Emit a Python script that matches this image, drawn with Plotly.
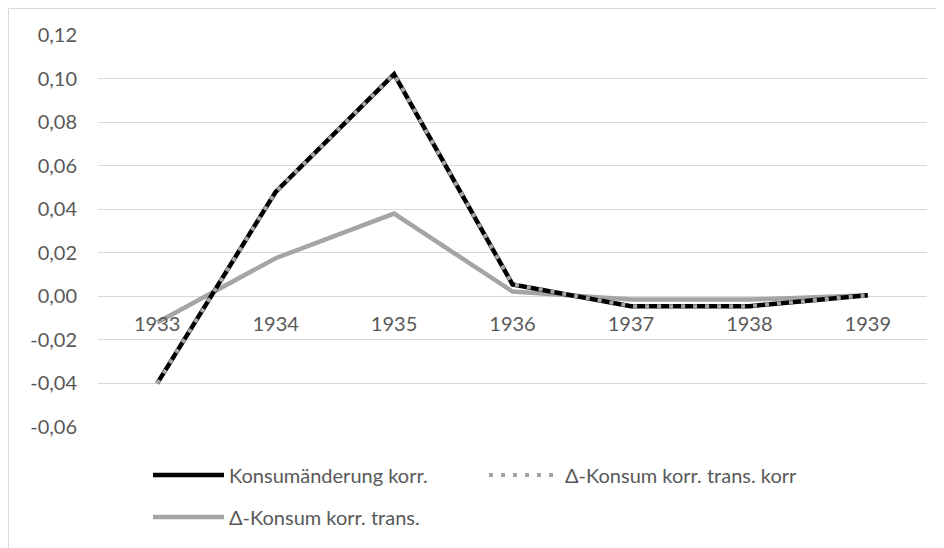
import plotly.graph_objects as go

years = ["1933", "1934", "1935", "1936", "1937", "1938", "1939"]
konsum_korr = [-0.040, 0.048, 0.102, 0.0055, -0.0045, -0.0045, 0.0005]
konsum_trans_korr = [-0.040, 0.048, 0.102, 0.0055, -0.0045, -0.0045, 0.0005]
konsum_trans = [-0.012, 0.0175, 0.038, 0.0022, -0.0015, -0.0015, 0.0005]
y_tick_vals = [-0.06, -0.04, -0.02, 0.0, 0.02, 0.04, 0.06, 0.08, 0.10, 0.12]
y_tick_text = ["-0,06", "-0,04", "-0,02", "0,00", "0,02", "0,04", "0,06", "0,08", "0,10", "0,12"]

# page has an 8px body margin; figure coordinates = page - 8
W, H = 936, 540
L, T = 90, 27
R = W - (927 - 8)
B = H - (427 - 8)
pw, ph = W - L - R, H - T - B

def px(x):
    return (x - L) / pw

def py(y):
    return (H - B - y) / ph

font = dict(family="Lato, Open Sans, sans-serif", size=20, color="#595959")

fig = go.Figure()
fig.add_trace(go.Scatter(x=years, y=konsum_trans, mode="lines", name="Δ-Konsum korr. trans.",
                         line=dict(color="#A5A5A5", width=4.5), legend="legend2"))
fig.add_trace(go.Scatter(x=years, y=konsum_korr, mode="lines", name="Konsumänderung korr.",
                         line=dict(color="#000000", width=4.5), legendrank=1))
fig.add_trace(go.Scatter(x=years, y=konsum_trans_korr, mode="lines", name="Δ-Konsum korr. trans. korr",
                         line=dict(color="#A5A5A5", width=4, dash="4px,8px"), legendrank=2))

leg_common = dict(orientation="h", xanchor="left", yanchor="middle", font=font,
                  itemwidth=71, bgcolor="rgba(0,0,0,0)", borderwidth=0)

fig.update_layout(
    width=W, height=H,
    margin=dict(l=L, r=R, t=T, b=B, pad=0),
    paper_bgcolor="white", plot_bgcolor="white",
    separators=",.",
    font=font,
    showlegend=True,
    legend=dict(x=px(140), y=py(467), entrywidth=250, entrywidthmode="pixels", **leg_common),
    legend2=dict(x=px(140), y=py(509), **leg_common),
    xaxis=dict(type="category", showgrid=False, showline=False, ticks="",
               anchor="free", position=1/3, tickfont=font, zeroline=False,
               ticklabelstandoff=14, range=[-0.5, 6.5]),
    yaxis=dict(range=[-0.06, 0.12], tickmode="array", tickvals=y_tick_vals, ticktext=y_tick_text,
               showgrid=True, gridcolor="#D9D9D9", gridwidth=1, zeroline=True,
               zerolinecolor="#D9D9D9", zerolinewidth=1, showline=False,
               ticks="", ticklabelstandoff=20, tickfont=font, domain=[0, 1]),
    shapes=[dict(type="rect", xref="paper", yref="paper",
                 x0=px(0.5), x1=px(W + 5), y0=py(H + 5), y1=py(0.5),
                 line=dict(color="#D9D9D9", width=1), fillcolor="rgba(0,0,0,0)", layer="below")],
)

fig.write_html("out.html")
